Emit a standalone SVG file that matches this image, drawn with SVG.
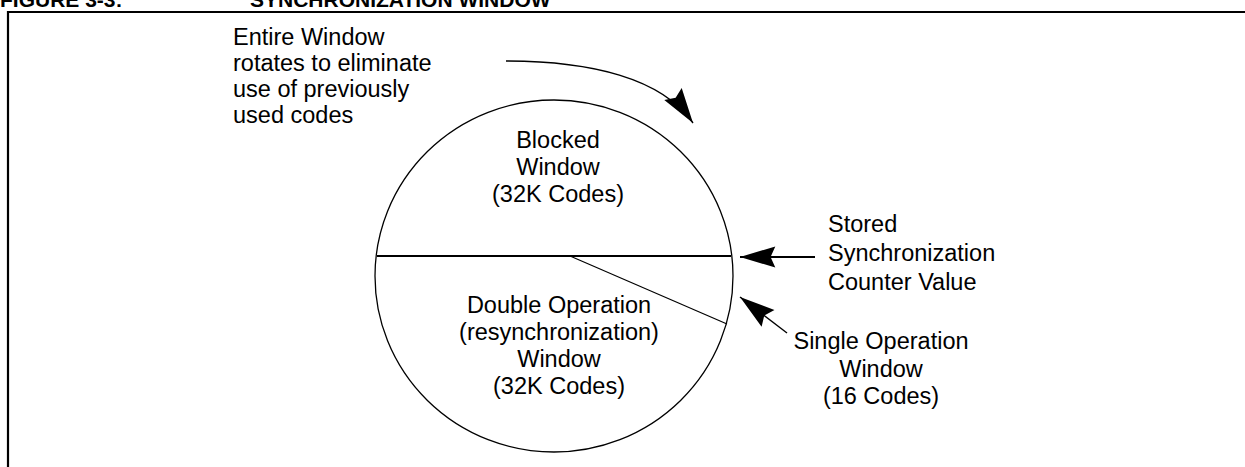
<svg xmlns="http://www.w3.org/2000/svg" width="1245" height="467" viewBox="0 0 1245 467">
<style>
.t{font-family:"Liberation Sans",Arial,sans-serif;font-size:23.5px;fill:#000}
.c{text-anchor:middle}
.h{font-family:"Liberation Sans",Arial,sans-serif;font-size:21px;font-weight:bold;fill:#000}
.ln{stroke:#000;fill:none}
</style>
<defs>
<marker id="ah" markerUnits="userSpaceOnUse" markerWidth="40" markerHeight="30" viewBox="-32 -12 34 24" refX="0" refY="0" orient="auto">
<path d="M0,0 L-30,-9 L-26,0 L-30,9 Z" fill="#000"/>
</marker>
</defs>
<rect width="1245" height="467" fill="#fff"/>
<g id="title">
<text class="h" x="0" y="7">FIGURE 3-3:</text>
<text class="h" x="250" y="7">SYNCHRONIZATION WINDOW</text>
</g>
<path class="ln" d="M8,467 V12 H1245" stroke-width="2.2"/>
<g id="window">
<ellipse cx="554" cy="276" rx="179" ry="176" class="ln" stroke-width="1.3"/>
</g>
<g id="blocked">
<text class="t c" x="558" y="148">Blocked</text>
<text class="t c" x="558" y="175">Window</text>
<text class="t c" x="558" y="202">(32K Codes)</text>
</g>
<g id="double">
<text class="t c" x="559" y="313">Double Operation</text>
<text class="t c" x="559" y="340">(resynchronization)</text>
<text class="t c" x="559" y="367">Window</text>
<text class="t c" x="559" y="394">(32K Codes)</text>
</g>
<g id="rotate-note">
<text class="t" x="233" y="45">Entire Window</text>
<text class="t" x="233" y="71">rotates to eliminate</text>
<text class="t" x="233" y="97">use of previously</text>
<text class="t" x="233" y="123">used codes</text>
</g>
<g id="stored">
<text class="t" x="828" y="232">Stored</text>
<text class="t" x="828" y="261">Synchronization</text>
<text class="t" x="828" y="290">Counter Value</text>
</g>
<g id="single">
<text class="t c" x="881" y="349">Single Operation</text>
<text class="t c" x="881" y="377">Window</text>
<text class="t c" x="881" y="404">(16 Codes)</text>
</g>
<g id="connectors">
<line class="ln" x1="377" y1="256" x2="731" y2="256" stroke-width="2.2"/>
<line class="ln" x1="570" y1="256" x2="727" y2="324" stroke-width="1.2"/>
<path class="ln" d="M506,61 C590,61 662,78 693,123" stroke-width="1.4" marker-end="url(#ah)"/>
<line class="ln" x1="815" y1="257" x2="740" y2="257" stroke-width="2.2" marker-end="url(#ah)"/>
<line class="ln" x1="787" y1="333" x2="740" y2="297" stroke-width="1.4" marker-end="url(#ah)"/>
</g>
</svg>
